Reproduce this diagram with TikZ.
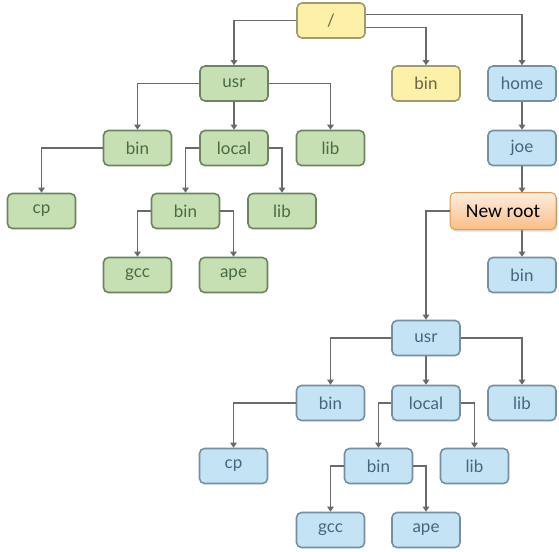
\documentclass[tikz,border=0pt]{standalone}
\usepackage{fontspec}
\newfontfamily\labelfont{Lato}
\newfontfamily\calloutfont{Carlito}
\usetikzlibrary{arrows.meta,shadows}
\definecolor{gfill}{HTML}{C6E0B4}
\definecolor{gdraw}{HTML}{6A8560}
\definecolor{gtext}{HTML}{4A6A44}
\definecolor{yfill}{HTML}{FDF1A9}
\definecolor{ydraw}{HTML}{A09A70}
\definecolor{ytext}{HTML}{66644A}
\definecolor{bfill}{HTML}{C4E3F4}
\definecolor{bdraw}{HTML}{7590A2}
\definecolor{btext}{HTML}{48667A}
\definecolor{wire}{HTML}{6A6A6A}
\definecolor{otop}{HTML}{FEEEE0}
\definecolor{obot}{HTML}{F9BE86}
\definecolor{odraw}{HTML}{E39A4C}
\tikzset{
  x=1pt, y=-1pt,
  dir/.style={rounded corners=5pt, line width=1.6pt, minimum width=68pt,
    minimum height=35pt, inner sep=0pt, font=\labelfont\fontsize{17}{17}\selectfont},
  gdir/.style={dir, fill=gfill, draw=gdraw, text=gtext},
  ydir/.style={dir, fill=yfill, draw=ydraw, text=ytext},
  bdir/.style={dir, fill=bfill, draw=bdraw, text=btext},
  conn/.style={draw=wire, line width=1.6pt, -{Triangle[length=5pt,width=6.5pt]}},
  callout/.style={rounded corners=5pt, line width=1pt, draw=odraw,
    top color=otop, bottom color=obot, minimum width=106pt, minimum height=37pt,
    inner sep=0pt, font=\calloutfont\fontsize{19.5}{19.5}\selectfont, text=black,
    drop shadow={opacity=0.25, shadow xshift=1.5pt, shadow yshift=-2pt}},
}
\begin{document}
\begin{tikzpicture}
\fill[white] (0,0) rectangle (559,551);
\useasboundingbox (0,0) rectangle (559,551);

% top-level tree
\node[ydir] (root) at (331,20.5) {/};
\node[gdir] (usr)  at (234,83.5) {usr};
\node[ydir] (ybin) at (426,83.5) {bin};
\node[bdir] (home) at (522,83.5) {home};

\node[gdir] (gbin)   at (137.5,148) {bin};
\node[gdir] (glocal) at (234,148) {local};
\node[gdir] (glib)   at (330.5,148) {lib};
\node[gdir] (gcp)    at (41.5,211) {cp};
\node[gdir] (glbin)  at (185.5,211) {bin};
\node[gdir] (gllib)  at (282,211) {lib};
\node[gdir] (ggcc)   at (137.5,275) {gcc};
\node[gdir] (gape)   at (233.5,275) {ape};

\node[bdir] (joe)  at (522,148) {joe};
\node[bdir] (jdir) at (522,211) {};
\node[bdir] (jbin) at (522,275) {bin};

% subtree under the new root
\node[bdir] (busr)   at (426,338) {usr};
\node[bdir] (bbin)   at (330.5,403) {bin};
\node[bdir] (blocal) at (426,403) {local};
\node[bdir] (blib)   at (522,403) {lib};
\node[bdir] (bcp)    at (233.5,466) {cp};
\node[bdir] (blbin)  at (378.5,466) {bin};
\node[bdir] (bllib)  at (474.5,466) {lib};
\node[bdir] (bgcc)   at (330.5,530) {gcc};
\node[bdir] (bape)   at (426,530) {ape};

% connectors of the upper tree
\draw[conn] (root.west) -| (usr.north);
\draw[conn] ([yshift=-7pt]root.east) -| (ybin.north);
\draw[conn] ([yshift=6pt]root.east) -| (home.north);
\draw[conn] (usr.west) -| (gbin.north);
\draw[conn] (usr.south) -- (glocal.north);
\draw[conn] (usr.east) -| (glib.north);
\draw[conn] (gbin.west) -| (gcp.north);
\draw[conn] (glocal.west) -| (glbin.north);
\draw[conn] (glocal.east) -| (gllib.north);
\draw[conn] (glbin.west) -| (ggcc.north);
\draw[conn] (glbin.east) -| (gape.north);
\draw[conn] (home.south) -- (joe.north);
\draw[conn] (joe.south) -- (jdir.north);
\draw[conn] (jdir.south) -- (jbin.north);

% connectors of the lower tree
\draw[conn] (busr.west) -| (bbin.north);
\draw[conn] (busr.south) -- (blocal.north);
\draw[conn] (busr.east) -| (blib.north);
\draw[conn] (bbin.west) -| (bcp.north);
\draw[conn] (blocal.west) -| (blbin.north);
\draw[conn] (blocal.east) -| (bllib.north);
\draw[conn] (blbin.west) -| (bgcc.north);
\draw[conn] (blbin.east) -| (bape.north);

% callout marking the new root
\node[callout] (newroot) at (503,211) {New root};
\draw[conn] (newroot.west) -| (busr.north);
\end{tikzpicture}
\end{document}
